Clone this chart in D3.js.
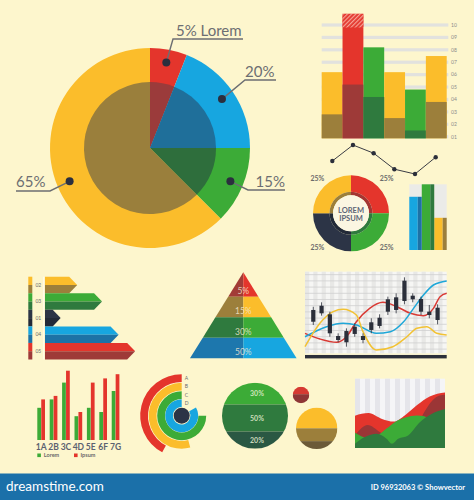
<!DOCTYPE html>
<html><head><meta charset="utf-8">
<script src="https://cdn.jsdelivr.net/npm/d3@7"></script>
<style>html,body{margin:0;padding:0;background:#fdf6cd;} svg{display:block;}</style>
</head><body><svg id="c" width="474" height="500"></svg>
<script>
// ---------------- DATA ----------------
const pieLabels = ["5% Lorem", "20%", "15%", "65%"];
const pieValues = [6, 19, 12.5, 62.5];

const barTicks = ["01","02","03","04","05","06","07","08","09","10"];
const barTotals = [6.2, 10.9, 8.2, 6.2, 4.8, 7.5];
const barInner = [2.8, 5.2, 4.2, 2.5, 1.5, 3.8];
const barHatchFrom = [null, 9.8, null, null, null, null];

const lineValues = [4.75, 8.75, 6.7, 2.7, 1.5, 5.7];

const donutLabels = ["25%", "25%", "25%", "25%"];
const donutValues = [25, 25, 25, 25];
const donutCenter = ["LOREM", "IPSUM"];

const smallBarValues = [81, 100, 49];

const arrowLabels = ["02", "03", "01", "04", "05"];
const arrowValues = [35, 62, 17, 80, 98];

const pyramidLabels = ["5%", "15%", "30%", "50%"];
const pyramidBreaks = [0, 0.284, 0.523, 0.76, 1];

const candleHigh   = [57.0, 62.5, 51.0, 24.5, 30.6, 36.8, 24.5, 42.9, 47.8, 69.4, 73.5, 93.1, 73.5, 69.4, 59.2, 60.0];
const candleLow    = [34.7, 46.1, 20.3, 13.5,  8.1, 20.3, 12.3, 24.5, 30.6, 46.9, 49.0, 60.0, 62.5, 46.9, 42.9, 35.5];
const candleTop    = [53.1, 58.3, 47.8, 21.2, 27.3, 32.6, 21.2, 38.0, 43.6, 66.2, 68.6, 89.0, 70.6, 66.5, 51.0, 55.9];
const candleBottom = [38.7, 49.0, 24.5, 16.3, 13.5, 23.7, 16.3, 28.6, 33.5, 51.0, 53.1, 64.1, 66.2, 51.0, 46.9, 40.8];
const blueCurve   = [[-1,20.3],[1.6,32.6],[3.6,36.8],[5.2,34.7],[7.6,24.5],[9.3,26.5],[10.9,38.7],[12.1,55.1],[13.3,71.4],[14.5,83.7],[16.1,88.6]];
const redCurve    = [[-1,24.4],[0.8,17.5],[2.8,13.5],[4.0,20.3],[5.2,38.7],[6.8,55.1],[8.4,62.5],[10.1,57.1],[11.7,49.0],[13.3,46.1],[14.5,55.1],[15.3,69.4],[16.1,73.5]];
const yellowCurve = [[-1,8.1],[0.8,36.8],[2.4,51.0],[3.6,53.9],[5.2,46.9],[6.0,26.5],[7.6,4.0],[9.6,8.1],[11.3,20.3],[12.5,30.6],[13.7,32.6],[14.9,24.5],[16.1,22.4]];

const groupCats = ["1A", "2B", "3C", "4D", "5E", "6F", "7G"];
const loremValues = [46, 58, 82, 34, 46, 40, 70];
const ipsumValues = [58, 63, 99, 40, 82, 88, 94];
const legendLabels = ["Lorem", "Ipsum"];

const radialLabels = ["A", "B", "C", "D"];
const radialValues = [152, 195, 270, 300]; // degrees, counter-clockwise from top

const bigCircleLabels = ["30%", "50%", "20%"];
const bigCircleShares = [33, 41, 26];
const smallCircleShares = [45, 55];
const midCircleShares = [50, 31, 19];

const areaRed      = [[0,46.7],[1.5,50.4],[3,41.9],[4.3,38.1],[5.6,47.6],[6.9,61.9],[8.3,74.3],[10,80]];
const areaDarkRed  = [[0,18.6],[1.4,33.3],[2.8,22.9],[4.2,11.4],[5.6,17],[6.9,33],[7.8,54],[8.6,68.6],[9.4,75.7],[10,77]];
const areaGreen    = [[0,22],[0.7,17],[1.5,14],[2.5,18],[3.5,28],[4.5,38],[5.6,44],[6.9,47],[7.6,46],[8.5,40],[10,30]];
const areaDarkGreen= [[0,6.1],[1.1,15.7],[2.4,20.4],[3.5,13.3],[4.1,6.1],[4.8,13.3],[5.9,18.1],[7.2,37.1],[8.5,49],[10,56.1]];

const footerLeft = "dreamstime.com";
const footerRight = "ID 96932063 \u00A9 Showvector";

// ---------------- STYLE ----------------
const C = {
  red:"#e4352c", redD:"#9e3a38", blue:"#17a6e0", blueD:"#1d72a6",
  green:"#3cab37", greenD:"#2f7a3e", yellow:"#fbbd2b", yellowD:"#9c7f3b",
  navy:"#2c3446", navyD:"#232a38", gray:"#6c6e72", bg:"#fdf6cd"
};
const FONT = "Lato, 'Open Sans', sans-serif";

const svg = d3.select("#c");
svg.append("rect").attr("width",474).attr("height",500).attr("fill",C.bg);
const defs = svg.append("defs");

// ---------------- MAIN PIE ----------------
(function(){
  const cx=150, cy=148;
  const g = svg.append("g").attr("transform",`translate(${cx},${cy})`);
  const arcs = d3.pie().sort(null).value(d=>d)(pieValues);
  const outerCol = [C.red, C.blue, C.green, C.yellow];
  const innerCol = ["#9b3b3b", "#1f6f9a", "#2e6e3c", "#9a7f3c"];
  const aOut = d3.arc().innerRadius(0).outerRadius(100);
  const aIn = d3.arc().innerRadius(0).outerRadius(66);
  g.selectAll("path.po").data(arcs).join("path").attr("class","po").attr("d",aOut).attr("fill",(d,i)=>outerCol[i]);
  g.selectAll("path.pi").data(arcs).join("path").attr("class","pi").attr("d",aIn).attr("fill",(d,i)=>innerCol[i]);
  const dotArc = d3.arc().innerRadius(87).outerRadius(87);
  const dots = arcs.map(a=>dotArc.centroid(a));
  // leader layout: elbow & end offsets (absolute), text anchor
  const lead = [
    {elb:[173,39], end:[243,39], tx:176, ty:35.5, anchor:"start"},
    {elb:[245,80], end:[276,80], tx:245, ty:76.5, anchor:"start"},
    {elb:[248,190], end:[285,190], tx:285, ty:186.5, anchor:"end"},
    {elb:[50,191], end:[16,191], tx:16, ty:186.5, anchor:"start"}
  ];
  lead.forEach((L,i)=>{
    const p = [dots[i][0]+cx, dots[i][1]+cy];
    svg.append("polyline").attr("points",[p,L.elb,L.end].map(q=>q.join(",")).join(" "))
      .attr("fill","none").attr("stroke",C.gray).attr("stroke-width",1.4);
    svg.append("circle").attr("cx",p[0]).attr("cy",p[1]).attr("r",4).attr("fill","#2b2f3e");
    svg.append("text").attr("x",L.tx).attr("y",L.ty).attr("text-anchor",L.anchor)
      .attr("font-family",FONT).attr("font-size",15).attr("fill",C.gray).text(pieLabels[i]);
  });
})();

// ---------------- TOP RIGHT BAR CHART ----------------
(function(){
  const y = d3.scaleLinear().domain([1,10]).range([136.7,25]);
  const x = d3.scaleBand().domain(d3.range(barTotals.length)).range([321.7,446.7]);
  const base = 0.87;
  const pat = defs.append("pattern").attr("id","hatch").attr("patternUnits","userSpaceOnUse")
    .attr("width",3).attr("height",3).attr("patternTransform","rotate(45)");
  pat.append("rect").attr("width",3).attr("height",3).attr("fill",C.red);
  pat.append("rect").attr("width",1.2).attr("height",3).attr("fill","#f6a497");
  const g = svg.append("g");
  g.selectAll("rect.grid").data(barTicks).join("rect").attr("class","grid")
    .attr("x",321.7).attr("width",126.6).attr("y",(d,i)=>y(i+1)-1.6).attr("height",3.2).attr("fill","#e2e2de");
  g.selectAll("text.tk").data(barTicks).join("text").attr("class","tk")
    .attr("x",451).attr("y",(d,i)=>y(i+1)+1.8).attr("font-family",FONT).attr("font-size",5)
    .attr("fill","#8a8a8a").text(d=>d);
  const outer = [C.yellow, C.red, C.green, C.yellow, C.green, C.yellow];
  const inner = [C.yellowD, C.redD, C.greenD, C.yellowD, C.greenD, C.yellowD];
  g.selectAll("rect.bo").data(barTotals).join("rect").attr("class","bo")
    .attr("x",(d,i)=>x(i)).attr("width",x.bandwidth()).attr("y",d=>y(d)).attr("height",d=>y(base)-y(d))
    .attr("fill",(d,i)=>outer[i]);
  g.selectAll("rect.bi").data(barInner).join("rect").attr("class","bi")
    .attr("x",(d,i)=>x(i)).attr("width",x.bandwidth()).attr("y",d=>y(d)).attr("height",d=>y(base)-y(d))
    .attr("fill",(d,i)=>inner[i]);
  barHatchFrom.forEach((h,i)=>{
    if(h==null) return;
    g.append("rect").attr("x",x(i)).attr("width",x.bandwidth()).attr("y",y(barTotals[i]))
      .attr("height",y(h)-y(barTotals[i])).attr("fill","url(#hatch)");
  });
})();

// ---------------- LINE CHART ----------------
(function(){
  const x = d3.scalePoint().domain(d3.range(lineValues.length)).range([332.3,435.7]);
  const y = d3.scaleLinear().domain([0,10]).range([180,140]);
  const g = svg.append("g");
  g.append("path").datum(lineValues).attr("d",d3.line().x((d,i)=>x(i)).y(d=>y(d)))
    .attr("fill","none").attr("stroke","#3a3c44").attr("stroke-width",1);
  g.selectAll("circle").data(lineValues).join("circle").attr("cx",(d,i)=>x(i)).attr("cy",d=>y(d))
    .attr("r",2.2).attr("fill","#2b2f3a");
})();

// ---------------- SMALL DONUT ----------------
(function(){
  const g = svg.append("g").attr("transform","translate(351,213.3)");
  const arcs = d3.pie().sort(null).value(d=>d)(donutValues);
  const col = [C.red, C.green, C.navy, C.yellow];
  const colD = ["#a33532", C.greenD, C.navyD, C.yellowD];
  g.selectAll("path.r").data(arcs).join("path").attr("class","r")
    .attr("d",d3.arc().innerRadius(21.5).outerRadius(38)).attr("fill",(d,i)=>col[i]);
  g.selectAll("path.rd").data(arcs).join("path").attr("class","rd")
    .attr("d",d3.arc().innerRadius(18).outerRadius(21.5)).attr("fill",(d,i)=>colD[i]);
  g.append("circle").attr("r",18).attr("fill","#fbf6e2");
  g.selectAll("text.c").data(donutCenter).join("text").attr("class","c")
    .attr("x",0).attr("y",(d,i)=>-0.5+i*8).attr("text-anchor","middle")
    .attr("font-family",FONT).attr("font-weight",700).attr("font-size",7.5).attr("fill","#5b6475").text(d=>d);
  const lab = d3.arc().innerRadius(49).outerRadius(49);
  g.selectAll("text.l").data(arcs).join("text").attr("class","l")
    .attr("x",d=>lab.centroid(d)[0]+1).attr("y",d=>lab.centroid(d)[1]+2.5).attr("text-anchor","middle")
    .attr("font-family",FONT).attr("font-weight",700).attr("font-size",7).attr("fill","#6a6a6a")
    .text((d,i)=>donutLabels[i]);
})();

// ---------------- SMALL BAR GROUP ----------------
(function(){
  const x = d3.scaleBand().domain(d3.range(smallBarValues.length)).range([409.3,446.7]);
  const y = d3.scaleLinear().domain([0,100]).range([250,184.3]);
  const col = [C.blue, C.green, C.yellow];
  const colD = [C.blueD, C.greenD, C.yellowD];
  const g = svg.append("g");
  g.selectAll("rect.bg").data(smallBarValues).join("rect").attr("class","bg")
    .attr("x",(d,i)=>x(i)).attr("width",x.bandwidth()).attr("y",y(100)).attr("height",y(0)-y(100)).attr("fill","#ebebe8");
  g.selectAll("rect.b").data(smallBarValues).join("rect").attr("class","b")
    .attr("x",(d,i)=>x(i)).attr("width",x.bandwidth()*0.68).attr("y",d=>y(d)).attr("height",d=>y(0)-y(d)).attr("fill",(d,i)=>col[i]);
  g.selectAll("rect.bd").data(smallBarValues).join("rect").attr("class","bd")
    .attr("x",(d,i)=>x(i)+x.bandwidth()*0.68).attr("width",x.bandwidth()*0.32).attr("y",d=>y(d)).attr("height",d=>y(0)-y(d)).attr("fill",(d,i)=>colD[i]);
})();

// ---------------- ARROW BARS ----------------
(function(){
  const x = d3.scaleLinear().domain([0,100]).range([45,137]);
  const y = d3.scaleBand().domain(d3.range(arrowValues.length)).range([276.7,359.5]);
  const col = [C.yellow, C.green, C.navy, C.blue, C.red];
  const colD = [C.yellowD, C.greenD, C.navyD, C.blueD, C.redD];
  const g = svg.append("g");
  const h = y.bandwidth(), tip = 8;
  arrowValues.forEach((v,i)=>{
    const y0 = y(i), xe = x(v), x0 = x(0);
    g.append("rect").attr("x",28.3).attr("y",y0).attr("width",4).attr("height",h/2).attr("fill",col[i]);
    g.append("rect").attr("x",28.3).attr("y",y0+h/2).attr("width",4).attr("height",h/2).attr("fill",colD[i]);
    g.append("polygon").attr("points",[[x0,y0],[xe-tip,y0],[xe,y0+h/2],[x0,y0+h/2]].join(" ")).attr("fill",col[i]);
    g.append("polygon").attr("points",[[x0,y0+h/2],[xe,y0+h/2],[xe-tip,y0+h],[x0,y0+h]].join(" ")).attr("fill",colD[i]);
    g.append("text").attr("x",38.3).attr("y",y0+h/2+1.8).attr("text-anchor","middle")
      .attr("font-family",FONT).attr("font-size",5).attr("fill","#6a6a6a").text(arrowLabels[i]);
  });
  g.append("line").attr("x1",43.6).attr("x2",43.6).attr("y1",276.7).attr("y2",359.5).attr("stroke","#fffbe8").attr("stroke-width",1);
})();

// ---------------- PYRAMID ----------------
(function(){
  const ax = 243.3;
  const y = d3.scaleLinear().domain([0,1]).range([272.3,358.3]);
  const w = d3.scaleLinear().domain([0,1]).range([0,53.3]);
  const col = [C.red, C.yellow, C.green, C.blue];
  const colD = ["#a23c37", C.yellowD, C.greenD, "#1d77ad"];
  const g = svg.append("g");
  pyramidLabels.forEach((lab,k)=>{
    const t = pyramidBreaks[k], b = pyramidBreaks[k+1];
    g.append("polygon").attr("points",[[ax-w(t),y(t)],[ax,y(t)],[ax,y(b)],[ax-w(b),y(b)]].join(" ")).attr("fill",colD[k]);
    g.append("polygon").attr("points",[[ax,y(t)],[ax+w(t),y(t)],[ax+w(b),y(b)],[ax,y(b)]].join(" ")).attr("fill",col[k]);
    g.append("text").attr("x",ax).attr("y",y(b)-3).attr("text-anchor","middle")
      .attr("font-family",FONT).attr("font-size",8.5).attr("fill","#f3e7cf").attr("fill-opacity",0.85).text(lab);
  });
})();

// ---------------- CANDLESTICK ----------------
(function(){
  const x = d3.scaleLinear().domain([-1,16.1]).range([305,446.7]);
  const y = d3.scaleLinear().domain([0,100]).range([353.3,271.7]);
  const g = svg.append("g");
  g.append("rect").attr("x",x(-1)).attr("y",y(100)).attr("width",x(16.1)-x(-1)).attr("height",y(0)-y(100)).attr("fill","#f6f6f4");
  d3.range(17).forEach(k=>{
    g.append("rect").attr("x",x(-1)+k*8.33).attr("y",y(100)).attr("width",4.2).attr("height",y(0)-y(100)).attr("fill","#e8e8e6");
  });
  d3.range(0,101,7.6).forEach(v=>{
    g.append("line").attr("x1",x(-1)).attr("x2",x(16.1)).attr("y1",y(v)+2).attr("y2",y(v)+2).attr("stroke","#cfcfcf").attr("stroke-width",0.8);
  });
  const line = d3.line().x(d=>x(d[0])).y(d=>y(d[1])).curve(d3.curveMonotoneX);
  [[redCurve,"#d93a34"],[blueCurve,"#1ea7d8"],[yellowCurve,"#f2c233"]].forEach(([data,c])=>{
    g.append("path").datum(data).attr("d",line).attr("fill","none").attr("stroke",c).attr("stroke-width",1.5);
  });
  candleHigh.forEach((hi,i)=>{
    g.append("line").attr("x1",x(i)).attr("x2",x(i)).attr("y1",y(hi)).attr("y2",y(candleLow[i])).attr("stroke","#2b2f3a").attr("stroke-width",0.8);
    g.append("rect").attr("x",x(i)-2.1).attr("width",4.2).attr("y",y(candleTop[i])).attr("height",y(candleBottom[i])-y(candleTop[i])).attr("fill","#2b2f3a");
  });
  g.append("rect").attr("x",x(-1)).attr("y",355).attr("width",x(16.1)-x(-1)).attr("height",3.4).attr("fill","#2b2f3a");
})();

// ---------------- GROUPED BARS ----------------
(function(){
  const x = d3.scaleBand().domain(groupCats).range([37.3,119.4]).paddingInner(0.38);
  const x1 = d3.scaleBand().domain([0,1]).range([0,x.bandwidth()]).paddingInner(0.05);
  const y = d3.scaleLinear().domain([0,100]).range([440,370]);
  const g = svg.append("g");
  [loremValues, ipsumValues].forEach((vals,s)=>{
    g.selectAll("rect.s"+s).data(vals).join("rect").attr("class","s"+s)
      .attr("x",(d,i)=>x(groupCats[i])+x1(s)).attr("width",x1.bandwidth())
      .attr("y",d=>y(d)).attr("height",d=>y(0)-y(d)).attr("fill",s?C.red:C.green);
  });
  g.selectAll("text.cat").data(groupCats).join("text").attr("class","cat")
    .attr("x",d=>x(d)+x.bandwidth()/2).attr("y",450).attr("text-anchor","middle")
    .attr("font-family",FONT).attr("font-weight",700).attr("font-size",8.5).attr("fill","#5b6170").text(d=>d);
  const lx = [37.3, 74];
  legendLabels.forEach((l,i)=>{
    g.append("rect").attr("x",lx[i]).attr("y",453.5).attr("width",3.6).attr("height",3.6).attr("fill",i?C.red:C.green);
    g.append("text").attr("x",lx[i]+6.5).attr("y",457.3).attr("font-family",FONT).attr("font-weight",700)
      .attr("font-size",5.5).attr("fill","#6a6a6a").text(l);
  });
})();

// ---------------- RADIAL BARS ----------------
(function(){
  const cx=181.7, cy=415.7;
  const g = svg.append("g").attr("transform",`translate(${cx},${cy})`);
  const outerR = [41.5, 33, 24.5, 16.5];
  const col = [C.red, C.yellow, C.green, C.blue];
  const ang = d3.scaleLinear().domain([0,360]).range([0,2*Math.PI]);
  radialValues.forEach((v,i)=>{
    const a = d3.arc().innerRadius(outerR[i]-7.8).outerRadius(outerR[i]).startAngle(-ang(v)).endAngle(0);
    g.append("path").attr("d",a()).attr("fill",col[i]);
    g.append("text").attr("x",3).attr("y",-(outerR[i]-3.9)+1.8).attr("font-family",FONT)
      .attr("font-size",5).attr("fill","#6a6a6a").text(radialLabels[i]);
  });
  g.append("circle").attr("r",8).attr("fill",C.navy);
})();

// ---------------- CIRCLES ----------------
function bandCircle(id, cx, cy, r, shares, colors, labels){
  defs.append("clipPath").attr("id",id).append("circle").attr("cx",cx).attr("cy",cy).attr("r",r);
  const y = d3.scaleLinear().domain([0,d3.sum(shares)]).range([cy-r, cy+r]);
  const g = svg.append("g").attr("clip-path",`url(#${id})`);
  let acc = 0;
  shares.forEach((s,i)=>{
    g.append("rect").attr("x",cx-r).attr("width",2*r).attr("y",y(acc)).attr("height",y(acc+s)-y(acc)).attr("fill",colors[i]);
    if(labels) svg.append("text").attr("x",cx+2).attr("y",(y(acc)+y(acc+s))/2+2.5).attr("text-anchor","middle")
      .attr("font-family",FONT).attr("font-weight",700).attr("font-size",7).attr("fill","#e8f0d4").attr("fill-opacity",0.85).text(labels[i]);
    acc += s;
  });
}
bandCircle("cb", 255, 415.7, 33, bigCircleShares, [C.green, C.greenD, "#2a5843"], bigCircleLabels);
bandCircle("cs", 301, 395, 8.3, smallCircleShares, ["#d63a32", "#8e3636"], null);
bandCircle("cm", 316.7, 428.3, 20.7, midCircleShares, [C.yellow, C.yellowD, "#6b5a38"], null);

// ---------------- AREA CHART ----------------
(function(){
  const x = d3.scaleLinear().domain([0,10]).range([355,445]);
  const y = d3.scaleLinear().domain([0,100]).range([448,378.7]);
  const g = svg.append("g");
  g.append("rect").attr("x",x(0)).attr("y",y(100)).attr("width",x(10)-x(0)).attr("height",y(0)-y(100)).attr("fill","#f5f5f7");
  d3.range(9).forEach(k=>{
    g.append("rect").attr("x",x(0)+k*10).attr("y",y(100)).attr("width",5).attr("height",y(0)-y(100)).attr("fill","#e5e5ea");
  });
  const area = d3.area().x(d=>x(d[0])).y0(y(0)).y1(d=>y(d[1])).curve(d3.curveMonotoneX);
  [[areaRed,C.red],[areaDarkRed,"#9b3636"],[areaGreen,C.green],[areaDarkGreen,C.greenD]].forEach(([d,c])=>{
    g.append("path").datum(d).attr("d",area).attr("fill",c);
  });
})();

// ---------------- FOOTER ----------------
svg.append("rect").attr("x",0).attr("y",473.5).attr("width",474).attr("height",26.5).attr("fill","#1b70a9");
svg.append("text").attr("x",6).attr("y",491).attr("font-family",FONT).attr("font-size",13.5).attr("fill","#ffffff").text(footerLeft);
svg.append("text").attr("x",465).attr("y",490).attr("text-anchor","end").attr("font-family",FONT).attr("font-weight",700)
  .attr("font-size",7.5).attr("fill","#ffffff").text(footerRight);
</script></body></html>
